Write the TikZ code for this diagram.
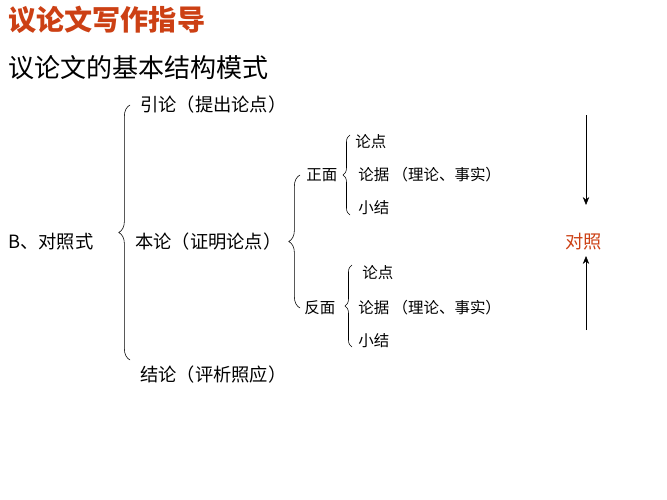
\documentclass[tikz,border=0pt]{standalone}
\usepackage{fontspec}
\setmainfont{Noto Sans CJK SC}
\usetikzlibrary{decorations.pathreplacing, arrows.meta, positioning}
\definecolor{titleRed}{RGB}{204,64,20}
\tikzstyle{txtNode}=[anchor=west, inner sep=0pt, font=\fontsize{13pt}{15pt}\selectfont]
\tikzstyle{subNode}=[anchor=west, inner sep=0pt, font=\fontsize{11pt}{13pt}\selectfont]
\tikzstyle{bigBrace}=[decorate, decoration={brace, amplitude=8pt}, thin]
\tikzstyle{smallBrace}=[decorate, decoration={brace, amplitude=5pt}, thin]
\tikzstyle{cmpArrow}=[-{Stealth[length=2mm,width=1.6mm]}, thin]

\begin{document}
\begin{tikzpicture}[x=0.025cm, y=-0.025cm]
    \useasboundingbox (0,0) rectangle (667,500);

    % Titles
    \node[anchor=west, inner sep=0pt, text=titleRed, font=\fontsize{20pt}{22pt}\selectfont\bfseries] (title) at (8, 20) {议论文写作指导};
    \node[anchor=west, inner sep=0pt, font=\fontsize{18.5pt}{21pt}\selectfont] (subtitle) at (8, 68) {议论文的基本结构模式};

    % Main parts
    \node[txtNode] (mode) at (8, 242) {B、对照式};
    \node[txtNode] (intro) at (140, 105) {引论（提出论点）};
    \node[txtNode] (body) at (135, 242) {本论（证明论点）};
    \node[txtNode] (concl) at (140, 375) {结论（评析照应）};
    \node[txtNode, text=titleRed] (compare) at (565, 242) {对照};

    % Positive side
    \node[subNode] (posSide) at (306, 175) {正面};
    \node[subNode] (posPoint) at (355, 142) {论点};
    \node[subNode] (posProof) at (358, 175) {论据 （理论、事实）};
    \node[subNode] (posSum) at (358, 208) {小结};

    % Negative side
    \node[subNode] (negSide) at (304, 308) {反面};
    \node[subNode] (negPoint) at (362, 273) {论点};
    \node[subNode] (negProof) at (358, 308) {论据 （理论、事实）};
    \node[subNode] (negSum) at (358, 341) {小结};

    % Braces
    \coordinate (bigTop) at (130, 105);
    \coordinate (bigBot) at (130, 360);
    \draw[bigBrace] (bigBot) -- (bigTop);
    \coordinate (midTop) at (300, 175);
    \coordinate (midBot) at (300, 308);
    \draw[bigBrace] (midBot) -- (midTop);
    \coordinate (posTop) at (350, 135);
    \coordinate (posBot) at (350, 215);
    \draw[smallBrace] (posBot) -- (posTop);
    \coordinate (negTop) at (352, 265);
    \coordinate (negBot) at (352, 347);
    \draw[smallBrace] (negBot) -- (negTop);

    % Comparison arrows
    \coordinate (downStart) at (586, 115);
    \coordinate (downEnd) at (586, 205);
    \coordinate (upStart) at (586, 330);
    \coordinate (upEnd) at (586, 256);
    \draw[cmpArrow] (downStart) -- (downEnd);
    \draw[cmpArrow] (upStart) -- (upEnd);
\end{tikzpicture}
\end{document}
